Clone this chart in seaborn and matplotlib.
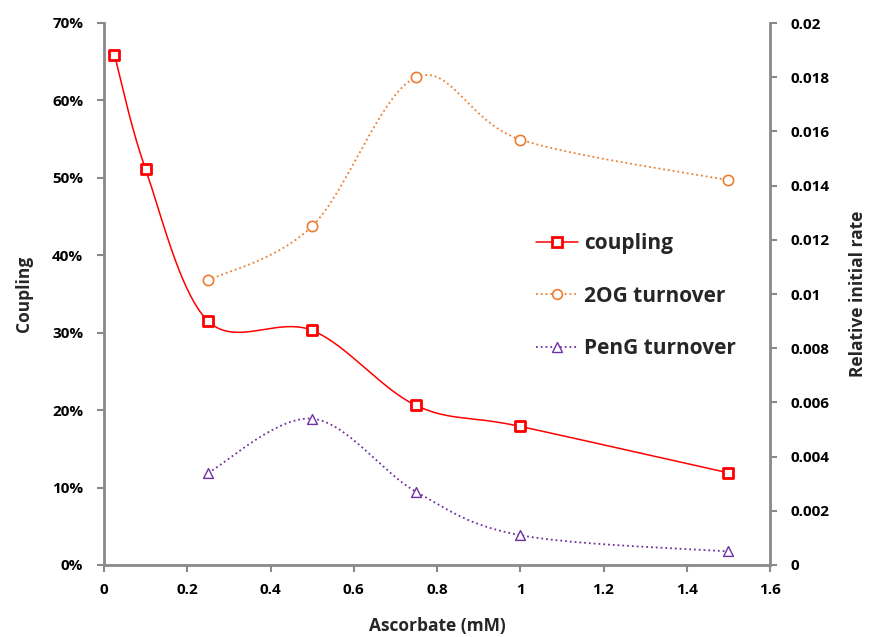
import numpy as np
import matplotlib
matplotlib.use('Agg')
import matplotlib.pyplot as plt
import seaborn as sns
from matplotlib.lines import Line2D
from matplotlib.ticker import FuncFormatter, MultipleLocator

# values
ascorbate_coupling = [0.025, 0.1, 0.25, 0.5, 0.75, 1.0, 1.5]
coupling = [0.659, 0.511, 0.315, 0.303, 0.206, 0.179, 0.119]
ascorbate_turnover = [0.25, 0.5, 0.75, 1.0, 1.5]
og_turnover = [0.0105, 0.0125, 0.0180, 0.0157, 0.0142]
peng_turnover = [0.0034, 0.0054, 0.0027, 0.0011, 0.0005]

RED = '#FF0000'
ORANGE = '#ED7D31'
PURPLE = '#7030A0'
GREY = '#898989'


def smooth(x, y, sx, sy, n=40):
    # Excel-like smoothed line (Bezier through points), computed in screen scale
    p = np.column_stack([np.asarray(x) * sx, np.asarray(y) * sy])
    pts = np.vstack([p[0], p, p[-1]])
    t = np.linspace(0, 1, n)[:, None]
    out = []
    for i in range(1, len(pts) - 2):
        p0, p1, p2, p3 = pts[i - 1], pts[i], pts[i + 1], pts[i + 2]
        c1 = p1 + (p2 - p0) / 6
        c2 = p2 - (p3 - p1) / 6
        out.append((1 - t) ** 3 * p1 + 3 * (1 - t) ** 2 * t * c1
                   + 3 * (1 - t) * t ** 2 * c2 + t ** 3 * p2)
    c = np.vstack(out)
    return c[:, 0] / sx, c[:, 1] / sy


sns.set_style('white')
plt.rcParams['font.family'] = ['Open Sans', 'DejaVu Sans']
plt.rcParams['font.weight'] = 'bold'

fig = plt.figure(figsize=(8.85, 6.37), dpi=100)
ax = fig.add_axes([104 / 885, 1 - 565 / 637, 666 / 885, 542 / 637])
ax2 = ax.twinx()

sx = 666 / 1.6
sy_left = 542 / 0.70
sy_right = 542 / 0.02

# coupling on left axis
cx, cy = smooth(ascorbate_coupling, coupling, sx, sy_left)
sns.lineplot(x=cx, y=cy, ax=ax, color=RED, linewidth=1.1, sort=False, estimator=None)
sns.scatterplot(x=ascorbate_coupling, y=coupling, ax=ax, marker='s', s=45,
                color='white', edgecolor=RED, linewidth=2, zorder=5)

# turnover on right axis
ox, oy = smooth(ascorbate_turnover, og_turnover, sx, sy_right)
sns.lineplot(x=ox, y=oy, ax=ax2, color=ORANGE, linewidth=1.3, linestyle=':',
             sort=False, estimator=None)
sns.scatterplot(x=ascorbate_turnover, y=og_turnover, ax=ax2, marker='o', s=55,
                color='white', edgecolor=ORANGE, linewidth=1.2, zorder=5)

px, py = smooth(ascorbate_turnover, peng_turnover, sx, sy_right)
sns.lineplot(x=px, y=py, ax=ax2, color=PURPLE, linewidth=1.3, linestyle=':',
             sort=False, estimator=None)
sns.scatterplot(x=ascorbate_turnover, y=peng_turnover, ax=ax2, marker='^', s=50,
                color='white', edgecolor=PURPLE, linewidth=1.0, zorder=5)

ax.set_xlim(0, 1.6)
ax.set_ylim(0, 0.70)
ax2.set_ylim(0, 0.02)
ax.xaxis.set_major_locator(MultipleLocator(0.2))
ax.yaxis.set_major_locator(MultipleLocator(0.1))
ax2.yaxis.set_major_locator(MultipleLocator(0.002))
ax.xaxis.set_major_formatter(FuncFormatter(lambda v, p: '%g' % round(v, 2)))
ax.yaxis.set_major_formatter(FuncFormatter(lambda v, p: '%d%%' % round(v * 100)))
ax2.yaxis.set_major_formatter(FuncFormatter(lambda v, p: '%g' % round(v, 4)))

for a in (ax, ax2):
    a.spines['top'].set_visible(False)
    for s in a.spines.values():
        s.set_color(GREY)
        s.set_linewidth(2)
    a.tick_params(colors=GREY, labelcolor='black', length=5, width=1.5,
                  labelsize=11, direction='out')
    a.grid(False)
ax.spines['right'].set_visible(False)
ax2.spines['left'].set_visible(False)
ax2.spines['bottom'].set_visible(False)
ax.tick_params(axis='x', bottom=True, pad=8)
ax.tick_params(axis='y', left=True, pad=10)
ax2.tick_params(axis='y', right=True, pad=10)
for lab in ax.get_xticklabels() + ax.get_yticklabels() + ax2.get_yticklabels():
    lab.set_fontweight('bold')

ax.set_xlabel('Ascorbate (mM)', fontsize=12.5, fontweight='bold', labelpad=14)
ax.set_ylabel('Coupling', fontsize=12.5, fontweight='bold', labelpad=14)
ax2.set_ylabel('Relative initial rate', fontsize=12.5, fontweight='bold', labelpad=14)

handles = [
    Line2D([], [], color=RED, linewidth=1.1, marker='s', markersize=7,
           markerfacecolor='white', markeredgecolor=RED, markeredgewidth=2),
    Line2D([], [], color=ORANGE, linewidth=1.3, linestyle=':', marker='o', markersize=7,
           markerfacecolor='white', markeredgecolor=ORANGE, markeredgewidth=1.2),
    Line2D([], [], color=PURPLE, linewidth=1.3, linestyle=':', marker='^', markersize=7,
           markerfacecolor='white', markeredgecolor=PURPLE, markeredgewidth=1.0),
]
leg = ax2.legend(handles, ['coupling', '2OG turnover', 'PenG turnover'],
                 loc='upper left', bbox_to_anchor=(526 / 885, 1 - 223 / 637),
                 bbox_transform=fig.transFigure, frameon=False, borderpad=0,
                 handlelength=2.0, handletextpad=0.3, labelspacing=1.5,
                 prop={'size': 15, 'weight': 'bold'})

fig.savefig('out.png', dpi=100)
